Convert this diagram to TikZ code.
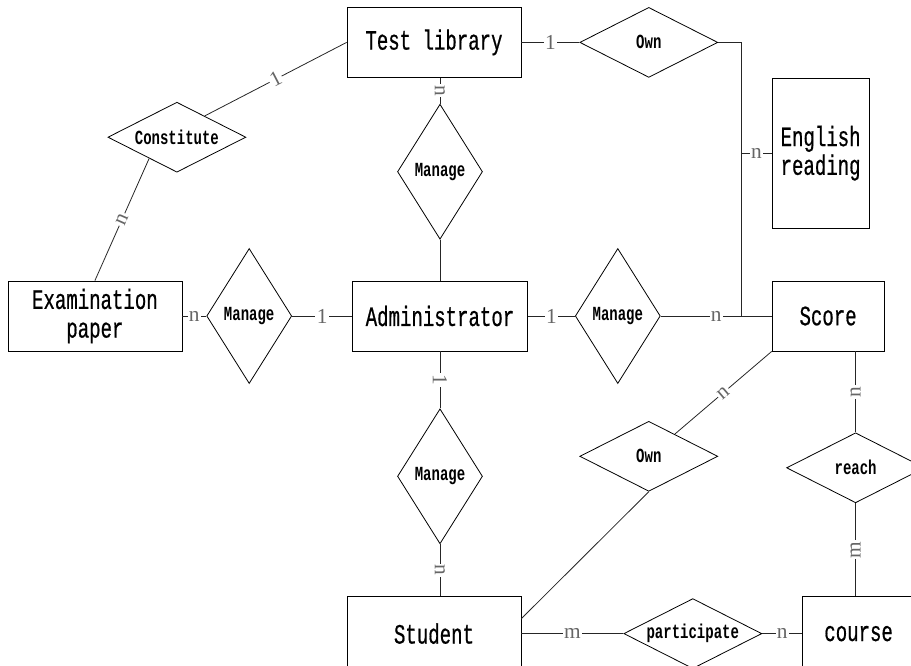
\documentclass[tikz,border=0pt]{standalone}
\usepackage{fontspec}
\newfontfamily\entfont[FakeStretch=0.68, FakeBold=0.6]{Liberation Mono}
\newfontfamily\relfont[FakeStretch=0.7]{Liberation Mono}
\newfontfamily\cardfont{Liberation Serif}
\usetikzlibrary{positioning,shapes.geometric,calc}

\tikzset{
  entity/.style={draw, rectangle, line width=0.6pt, minimum width=130.5pt, minimum height=52.5pt,
    align=center, font=\fontsize{21}{21.5}\selectfont\entfont},
  smallent/.style={entity, minimum width=84pt},
  rel/.style={draw, diamond, line width=0.6pt, inner sep=0pt, font=\fontsize{15}{15}\selectfont\relfont\bfseries},
  widerel/.style={rel, minimum width=103.5pt, minimum height=52.5pt, shape aspect=2},
  tallrel/.style={rel, minimum width=63.75pt, minimum height=101.25pt, shape aspect=1},
  link/.style={draw=black!85, line width=0.6pt},
  card/.style={fill=white, inner sep=1pt, sloped, text=black!60, font=\fontsize{16}{16}\selectfont\cardfont},
}

\begin{document}
\begin{tikzpicture}[x=0.75pt, y=-0.75pt]
  \useasboundingbox (0,0) rectangle (911,665);
  \clip (0,0) rectangle (911,665);

  % Define nodes
  \node[entity, minimum width=131.25pt]              (admin) at (440,316) {Administrator};
  \node[tallrel, left=45pt of admin]                 (mgl)   {Manage};
  \node[entity, left=18pt of mgl]                    (ep)    {Examination\\paper};
  \node[tallrel, right=35.25pt of admin]             (mgr)   {Manage};
  \node[smallent, right=83.25pt of mgr]              (score) {Score};
  \node[tallrel, above=30.75pt of admin]             (mgt)   {Manage};
  \node[entity, above=19.5pt of mgt, xshift=-4.5pt]  (tl)    {Test library};
  \node[tallrel, below=42.75pt of admin]             (mgb)   {Manage};
  \node[entity, minimum height=55.5pt, below=39pt of mgb, xshift=-4.5pt] (stu) {Student};
  \node[widerel, right=43.5pt of tl]                 (ownt)  {Own};
  \node[entity, minimum width=72.75pt, minimum height=112.5pt,
        above=39pt of score.north west, anchor=south west] (er) {English\\reading};
  \node[widerel, above=81pt of ep, xshift=61.5pt]    (con)   {Constitute};
  \node[widerel, below=27.75pt of mgr, xshift=23.25pt] (owns) {Own};
  \node[widerel, right=76.5pt of stu]                (part)  {participate};
  \node[smallent, minimum height=55.5pt, right=30pt of part] (course) {course};
  \node[widerel, above=69.75pt of course, xshift=-2.25pt] (reach) {reach};
  \coordinate[right=17.25pt of ownt.east]            (bend);

  % Connect the nodes
  \draw[link] (tl.south -| mgt.north) -- node[card] {n} (mgt.north);
  \draw[link] (mgt.south) -- (mgt.south |- admin.north);
  \draw[link] (admin.south -| mgb.north) -- node[card] {1} (mgb.north);
  \draw[link] (mgb.south) -- node[card] {n} (mgb.south |- stu.north);
  \draw[link] (ep.east) -- node[card] {n} (mgl.west);
  \draw[link] (mgl.east) -- node[card] {1} (admin.west);
  \draw[link] (admin.east) -- node[card] {1} (mgr.west);
  \draw[link] (mgr.east) -- node[card] {n} (score.west);
  \draw[link] (tl.east) -- node[card] {1} (ownt.west);
  \draw[link] (ownt.east) -- (bend) -- (bend |- score.west);
  \draw[link] (bend |- er.west) -- node[card] {n} (er.west);
  \draw[link] (tl.west) -- node[card] {1} ($(con.north)!0.4!(con.east)$);
  \draw[link] (ep.north) -- node[card] {n} ($(con.south)!0.4!(con.west)$);
  \draw[link] (score.south west) -- node[card] {n} (owns);
  \draw[link] (owns.south) -- ([yshift=11.25pt]stu.east);
  \draw[link] (stu.east) -- node[card] {m} (part.west);
  \draw[link] (part.east) -- node[card] {n} (course.west);
  \draw[link] (reach.north) -- node[card] {n} (reach.north |- score.south);
  \draw[link] (reach.south |- course.north) -- node[card] {m} (reach.south);
\end{tikzpicture}
\end{document}
